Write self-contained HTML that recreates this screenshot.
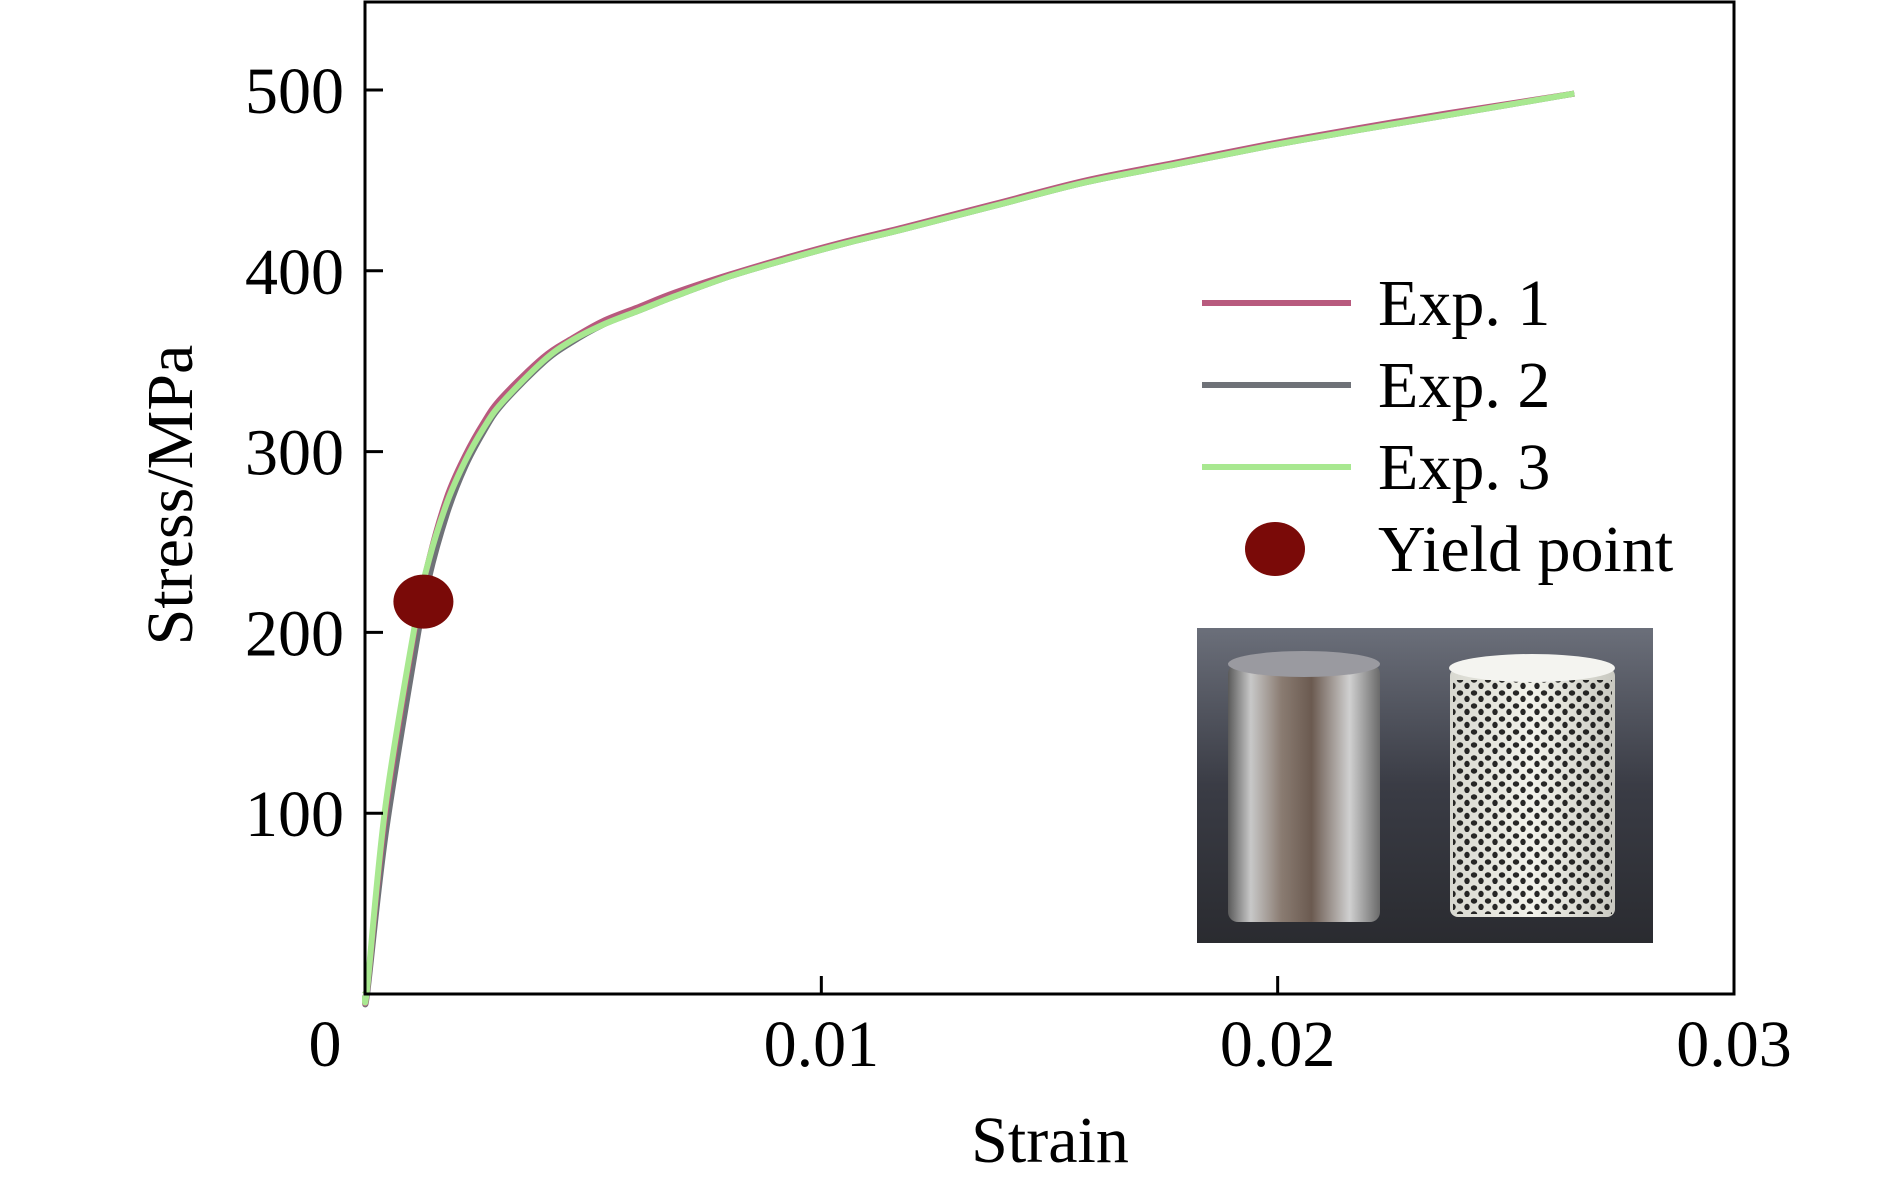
<!DOCTYPE html>
<html><head><meta charset="utf-8"><style>
html,body{margin:0;padding:0;background:#fff;}
svg{display:block;font-family:"Liberation Serif",serif;}
</style></head><body>
<svg id="chart" width="1890" height="1183" viewBox="0 0 1890 1183">
<defs>
<linearGradient id="bg" x1="0" y1="0" x2="0" y2="1"><stop offset="0" stop-color="#6b6f7a"/><stop offset="0.5" stop-color="#3a3c45"/><stop offset="1" stop-color="#2a2b30"/></linearGradient>
<linearGradient id="metal" x1="0" y1="0" x2="1" y2="0"><stop offset="0" stop-color="#5a5a5a"/><stop offset="0.15" stop-color="#c8c8c8"/><stop offset="0.35" stop-color="#8a7c72"/><stop offset="0.55" stop-color="#6b5a50"/><stop offset="0.8" stop-color="#d0d0d0"/><stop offset="1" stop-color="#6a6a6a"/></linearGradient>
<linearGradient id="porous" x1="0" y1="0" x2="1" y2="0"><stop offset="0" stop-color="#d8d8d0"/><stop offset="0.5" stop-color="#f2f2ea"/><stop offset="1" stop-color="#c8c8c0"/></linearGradient>
<pattern id="dots" width="14" height="13" patternUnits="userSpaceOnUse"><ellipse cx="4" cy="4" rx="3.2" ry="2.7" fill="#111"/><ellipse cx="11" cy="10" rx="2.7" ry="3.2" fill="#111"/></pattern>
</defs>
<g id="photo">
<rect x="1197" y="628" width="456" height="315" fill="url(#bg)"/>
<rect x="1228" y="664" width="152" height="258" rx="10" fill="url(#metal)"/>
<ellipse cx="1304" cy="664" rx="76" ry="13" fill="#9a9aa0"/>
<rect x="1450" y="668" width="165" height="249" rx="8" fill="url(#porous)"/>
<rect x="1453" y="680" width="159" height="234" fill="url(#dots)" opacity="0.9"/>
<ellipse cx="1532" cy="668" rx="83" ry="14" fill="#f4f4f0"/>
</g>
<g id="curves"></g>
<rect x="365" y="2" width="1369" height="992" fill="none" stroke="#000" stroke-width="3"/>
<g id="axes"></g>
<text x="1050" y="1162" font-size="66" text-anchor="middle">Strain</text>
<text transform="translate(192,495) rotate(-90)" font-size="66" text-anchor="middle">Stress/MPa</text>
<g>
<line x1="1202" y1="303" x2="1351" y2="303" stroke="#b85a7e" stroke-width="6"/>
<text x="1378" y="325" font-size="66">Exp. 1</text>
<line x1="1202" y1="385" x2="1351" y2="385" stroke="#6f7278" stroke-width="6"/>
<text x="1378" y="407" font-size="66">Exp. 2</text>
<line x1="1202" y1="467" x2="1351" y2="467" stroke="#a8e890" stroke-width="6"/>
<text x="1378" y="489" font-size="66">Exp. 3</text>
<ellipse cx="1275" cy="549" rx="30" ry="27" fill="#7a0a08"/>
<text x="1378" y="571" font-size="66">Yield point</text>
</g>
</svg>
<script>
const strain = [0, 0.00005, 0.00045, 0.0011, 0.0014, 0.0018, 0.0022, 0.0026, 0.0030, 0.0039, 0.0045, 0.0052, 0.0060, 0.0068, 0.0080, 0.0092, 0.0105, 0.0118, 0.0138, 0.0158, 0.0178, 0.0198, 0.0218, 0.0237, 0.0265];
const exp1 = [0, 3, 100, 203, 240, 275, 298, 316, 330, 352, 362, 372, 380, 388, 398, 407, 416, 424, 437, 450, 460, 470, 479, 487, 498];
const exp2 = [0, 1, 88, 190, 230, 266, 292, 311, 326, 349, 360, 370, 378, 386, 397, 406, 415, 423, 436, 449, 459, 469, 478, 486, 498];
const exp3 = [0, 4, 104, 205, 240, 272, 295, 313, 327, 350, 361, 370, 378, 386, 397, 406, 415, 423, 436, 449, 459, 469, 478, 486, 498];
const yieldPoint = [0.00128, 217];
const xTicks = [0, 0.01, 0.02, 0.03];
const xTickLabels = ["0", "0.01", "0.02", "0.03"];
const yTicks = [100, 200, 300, 400, 500];
const yTickLabels = ["100", "200", "300", "400", "500"];
const NS = "http://www.w3.org/2000/svg";
const X = v => 365 + v / 0.03 * 1369;
const Y = v => 994 - v / 100 * 180.8;
const curves = document.getElementById('curves');
const axes = document.getElementById('axes');
function smoothPath(vals) {
  const pts = vals.map((v, i) => [X(strain[i]), Y(v)]);
  let d = 'M' + pts[0][0].toFixed(1) + ',' + pts[0][1].toFixed(1);
  for (let i = 0; i < pts.length - 1; i++) {
    const p0 = pts[Math.max(0, i - 1)], p1 = pts[i], p2 = pts[i + 1], p3 = pts[Math.min(pts.length - 1, i + 2)];
    const c1 = [p1[0] + (p2[0] - p0[0]) / 6, p1[1] + (p2[1] - p0[1]) / 6];
    const c2 = [p2[0] - (p3[0] - p1[0]) / 6, p2[1] - (p3[1] - p1[1]) / 6];
    d += 'C' + c1[0].toFixed(1) + ',' + c1[1].toFixed(1) + ' ' + c2[0].toFixed(1) + ',' + c2[1].toFixed(1) + ' ' + p2[0].toFixed(1) + ',' + p2[1].toFixed(1);
  }
  return d;
}
function drawSeries(vals, color, name) {
  const p = document.createElementNS(NS, 'path');
  p.setAttribute('d', smoothPath(vals));
  p.setAttribute('fill', 'none');
  p.setAttribute('stroke', color);
  p.setAttribute('stroke-width', '6');
  p.setAttribute('stroke-linejoin', 'round');
  
  
  curves.appendChild(p);
}
drawSeries(exp2, '#6f7278', 'series-exp2');
drawSeries(exp1, '#b85a7e', 'series-exp1');
drawSeries(exp3, '#a8e890', 'series-exp3');
const ym = document.createElementNS(NS, 'ellipse');
ym.setAttribute('cx', X(yieldPoint[0])); ym.setAttribute('cy', Y(yieldPoint[1]));
ym.setAttribute('rx', 30); ym.setAttribute('ry', 27); ym.setAttribute('fill', '#7a0a08');


curves.appendChild(ym);
xTicks.forEach((t, i) => {
  if (i > 0 && i < xTicks.length - 1) {
    const l = document.createElementNS(NS, 'line');
    l.setAttribute('x1', X(t)); l.setAttribute('x2', X(t)); l.setAttribute('y1', 994); l.setAttribute('y2', 976);
    l.setAttribute('stroke', '#000'); l.setAttribute('stroke-width', '3');
    
    
    axes.appendChild(l);
  }
  const tx = document.createElementNS(NS, 'text');
  tx.setAttribute('x', i === 0 ? X(t) - 40 : X(t)); tx.setAttribute('y', 1066);
  tx.setAttribute('font-size', '66'); tx.setAttribute('text-anchor', 'middle');
  tx.textContent = xTickLabels[i];
  
  
  axes.appendChild(tx);
});
yTicks.forEach((t, i) => {
  const l = document.createElementNS(NS, 'line');
  l.setAttribute('x1', 365); l.setAttribute('x2', 383); l.setAttribute('y1', Y(t)); l.setAttribute('y2', Y(t));
  l.setAttribute('stroke', '#000'); l.setAttribute('stroke-width', '3');
  
  
  axes.appendChild(l);
  const tx = document.createElementNS(NS, 'text');
  tx.setAttribute('x', 344); tx.setAttribute('y', Y(t) + 23);
  tx.setAttribute('font-size', '66'); tx.setAttribute('text-anchor', 'end');
  tx.textContent = yTickLabels[i];
  
  
  axes.appendChild(tx);
});
</script>
</body></html>
